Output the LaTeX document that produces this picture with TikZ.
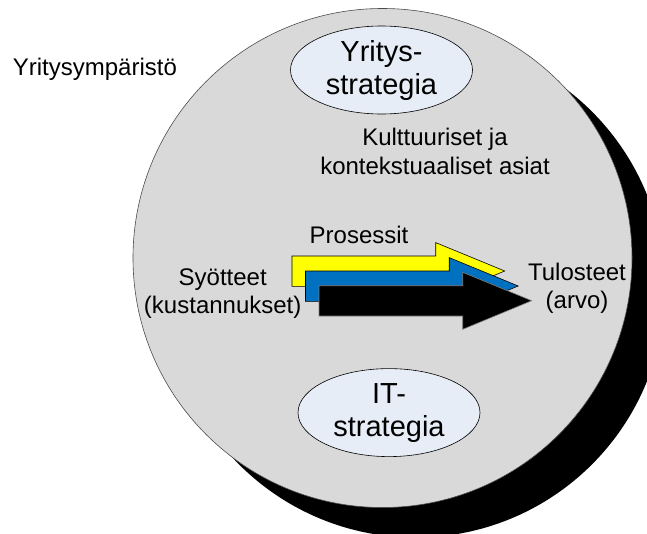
\documentclass[tikz,border=0pt]{standalone}
\usepackage{fontspec}
\setmainfont{Liberation Sans}
\usetikzlibrary{shapes.geometric}
\definecolor{discgray}{HTML}{D9D9D9}
\definecolor{stratfill}{HTML}{E7EDF7}
\definecolor{procblue}{HTML}{0070C0}
\definecolor{procyellow}{HTML}{FFFF00}
\begin{document}
\begin{tikzpicture}[x=1pt,y=-1pt,
  txt/.style={font=\fontsize{24}{28}\selectfont, align=center, inner sep=0pt, anchor=base},
  strat/.style={ellipse, draw=black, line width=0.6pt, fill=stratfill,
    minimum width=182pt, minimum height=88pt, inner sep=0pt, align=center,
    font=\fontsize{29}{33}\selectfont},
  disc/.style={circle, minimum size=499pt, inner sep=0pt},
  flowarrow/.pic={\path[pic actions] (0,0) -- (143.7,0) -- (143.7,-13.4)
    -- (212.7,15) -- (143.7,43.6) -- (143.7,30.3) -- (0,30.3) -- cycle;}
]
\clip (0,0) rectangle (647,533);
\fill[white] (0,0) rectangle (647,533);

% environment disc with its drop shadow
\node[disc, fill=black] (shadow) at (415.5,288) {};
\node[disc, fill=discgray, draw=black!70, line width=0.6pt] (env) at (382.5,258) {};

% strategy ellipses
\node[strat] (bizstrat) at (381.5,70) {Yritys-\\strategia};
\node[strat] (itstrat) at (389,412.6) {IT-\\strategia};

% stacked process arrows
\pic[fill=procyellow, draw=black, line width=0.6pt] (yellowarrow) at (292,256) {flowarrow};
\pic[fill=procblue, draw=black, line width=0.6pt] (bluearrow) at (305.5,271) {flowarrow};
\pic[fill=black, draw=black!50, line width=0.6pt] (blackarrow) at (319,285.7) {flowarrow};

% labels (multi-line labels are placed by the baseline of their last line)
\node[txt, anchor=base west] (envlabel) at (12.7,75) {Yritysympäristö};
\node[txt, font=\fontsize{24}{29}\selectfont] (culture) at (435,174.1) {Kulttuuriset ja\\kontekstuaaliset asiat};
\node[txt] (process) at (359,243.3) {Prosessit};
\node[txt] (inputs) at (222.7,313.3) {Syötteet\\(kustannukset)};
\node[txt] (outputs) at (577,308.3) {Tulosteet\\(arvo)};
\end{tikzpicture}
\end{document}
